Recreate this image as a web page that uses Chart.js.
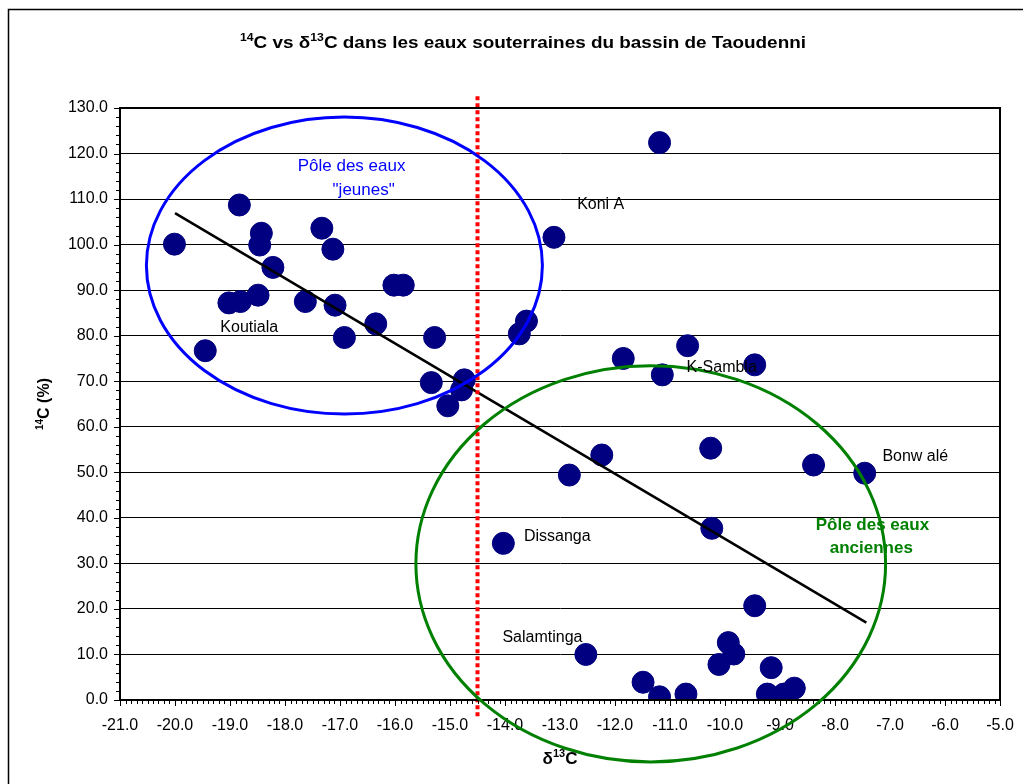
<!DOCTYPE html>
<html>
<head>
<meta charset="utf-8">
<script src="https://cdn.jsdelivr.net/npm/chart.js@4.4.1/dist/chart.umd.min.js"></script>
<style>
  body { margin: 0; background: #fff; }
  canvas { display: block; }
</style>
</head>
<body>
<canvas id="myChart" width="1023" height="784"></canvas>
<script>
// delta 13C (x) and 14C activity in % (y) for each sample
const d13C = [
  -20.01, -18.83, -18.43, -18.46, -18.22, -19.02, -18.81, -18.49, -19.45, -17.63,
  -17.33, -17.13, -17.09, -16.92, -16.35, -16.02, -15.85, -15.28, -15.34, -15.04,
  -14.74, -14.79, -13.61, -13.74, -13.11, -11.19, -11.85, -10.68, -11.14, -9.46,
  -12.24, -12.83, -10.26, -8.39, -7.46, -10.24, -14.03, -9.46, -12.53, -9.94,
  -9.84, -10.11, -9.16, -11.49, -11.19, -10.71, -9.23, -8.93, -8.74
];
const c14 = [
  100.1, 108.7, 102.5, 99.9, 95.0, 87.2, 87.5, 88.9, 76.7, 87.5,
  103.6, 99.0, 86.7, 79.6, 82.6, 91.1, 91.1, 79.6, 69.7, 64.6,
  70.3, 68.1, 83.2, 80.4, 101.6, 122.4, 75.0, 77.8, 71.4, 73.6,
  53.8, 49.4, 55.3, 51.6, 49.8, 37.7, 34.4, 20.7, 10.0, 12.6,
  10.1, 7.8, 7.1, 3.9, 0.7, 1.3, 1.3, 1.3, 2.6
];

// linear trend end points
const trendX = [-20.0, -7.43];
const trendY = [106.9, 17.0];

// vertical cut-off line (dotted red)
const cutoffX = [-14.5, -14.5];
const cutoffY = [132.6, -3.8];

// site names and where they sit (data units)
const siteNames = ['Koutiala', 'Koni A', 'K-Sambla', 'Bonw alé', 'Dissanga', 'Salamtinga'];
const siteX = [-18.65, -12.26, -10.06, -6.54, -13.05, -13.32];
const siteY = [81.7, 108.7, 73.1, 53.4, 35.8, 13.8];

// end-member ellipses: young (blue) and old (green) waters
const poleLines = [['Pôle des eaux', '"jeunes"'], ['Pôle des eaux', 'anciennes']];
const poleTextX = [[-16.79, -16.57], [-7.32, -7.34]];
const poleTextY = [[117.3, 112.0], [38.4, 33.4]];
const ellipseCx = [-16.92, -11.35];
const ellipseCy = [95.4, 29.9];
const ellipseRx = [3.6, 4.27];
const ellipseRy = [32.6, 43.5];
const poleColors = ['#0000ff', '#008000'];

const FONT = "'Liberation Sans', Arial, sans-serif";

function toPoints(xs, ys) {
  return xs.map((x, i) => ({ x: x, y: ys[i] }));
}

// draws text where some parts are superscript, optionally stretched to a width
function richText(ctx, parts, x, y, size, bold, width) {
  const w = bold ? 'bold ' : '';
  let total = 0;
  parts.forEach(p => {
    ctx.font = w + (p.sup ? Math.round(size * 0.65) : size) + 'px ' + FONT;
    p.w = ctx.measureText(p.t).width;
    total += p.w;
  });
  const sx = width ? width / total : 1;
  ctx.save();
  ctx.translate(x, y);
  ctx.scale(sx, 1);
  let cx = -total / 2;
  ctx.textAlign = 'left';
  ctx.textBaseline = 'middle';
  parts.forEach(p => {
    ctx.font = w + (p.sup ? Math.round(size * 0.65) : size) + 'px ' + FONT;
    ctx.fillText(p.t, cx, p.sup ? -size * 0.3 : 0);
    cx += p.w;
  });
  ctx.restore();
}

const decorations = {
  id: 'decorations',
  beforeDraw(chart) {
    const ctx = chart.ctx;
    ctx.save();
    ctx.fillStyle = '#fff';
    ctx.fillRect(0, 0, chart.width, chart.height);
    // outer frame of the chart object
    ctx.strokeStyle = '#000';
    ctx.lineWidth = 1.5;
    ctx.beginPath();
    ctx.moveTo(8.5, chart.height);
    ctx.lineTo(8.5, 9.5);
    ctx.lineTo(chart.width, 9.5);
    ctx.stroke();
    ctx.restore();
  },
  afterDatasetsDraw(chart) {
    const ctx = chart.ctx;
    const xs = chart.scales.x;
    const ys = chart.scales.y;
    const a = chart.chartArea;
    ctx.save();

    // plot frame
    ctx.strokeStyle = '#000';
    ctx.lineWidth = 2;
    ctx.strokeRect(a.left, a.top, a.right - a.left, a.bottom - a.top);

    // minor / major tick marks
    ctx.lineWidth = 1;
    ctx.beginPath();
    for (let v = 0; v <= 130.001; v += 2) {
      const py = Math.round(ys.getPixelForValue(v)) + 0.5;
      const len = Math.abs(v % 10) < 0.01 ? 6 : 4;
      ctx.moveTo(a.left - len, py);
      ctx.lineTo(a.left, py);
    }
    for (let i = 0; i <= 160; i++) {
      const px = Math.round(xs.getPixelForValue(-21 + i / 10)) + 0.5;
      const len = i % 10 === 0 ? 6 : 4;
      ctx.moveTo(px, a.bottom);
      ctx.lineTo(px, a.bottom + len);
    }
    ctx.stroke();

    // ellipses
    ctx.lineWidth = 3;
    ellipseCx.forEach((cx, i) => {
      const px = xs.getPixelForValue(cx);
      const py = ys.getPixelForValue(ellipseCy[i]);
      const rx = xs.getPixelForValue(cx + ellipseRx[i]) - px;
      const ry = py - ys.getPixelForValue(ellipseCy[i] + ellipseRy[i]);
      ctx.strokeStyle = poleColors[i];
      ctx.beginPath();
      ctx.ellipse(px, py, rx, ry, 0, 0, Math.PI * 2);
      ctx.stroke();
    });

    // site labels
    ctx.fillStyle = '#000';
    ctx.font = '16px ' + FONT;
    ctx.textAlign = 'center';
    ctx.textBaseline = 'middle';
    siteNames.forEach((name, i) => {
      ctx.fillText(name, xs.getPixelForValue(siteX[i]), ys.getPixelForValue(siteY[i]));
    });

    // pole labels
    poleLines.forEach((lines, i) => {
      ctx.fillStyle = poleColors[i];
      ctx.font = (i === 1 ? 'bold ' : '') + '17px ' + FONT;
      lines.forEach((line, j) => {
        ctx.fillText(line, xs.getPixelForValue(poleTextX[i][j]), ys.getPixelForValue(poleTextY[i][j]));
      });
    });

    // titles with superscripts
    ctx.fillStyle = '#000';
    richText(ctx, [
      { t: '14', sup: true }, { t: 'C vs δ' }, { t: '13', sup: true },
      { t: 'C dans les eaux souterraines du bassin de Taoudenni' }
    ], 523, 43, 17, true, 566);
    richText(ctx, [{ t: 'δ' }, { t: '13', sup: true }, { t: 'C' }], 560, 759, 17, true);
    ctx.translate(45, 404);
    ctx.rotate(-Math.PI / 2);
    richText(ctx, [{ t: '14', sup: true }, { t: 'C (%)' }], 0, 0, 16, true);
    ctx.restore();
  }
};

const ctx = document.getElementById('myChart').getContext('2d');
new Chart(ctx, {
  type: 'scatter',
  data: {
    datasets: [
      {
        label: 'Echantillons',
        data: toPoints(d13C, c14),
        backgroundColor: '#000080',
        borderColor: '#000080',
        pointRadius: 11,
        pointHoverRadius: 11,
        order: 2
      },
      {
        label: 'Tendance',
        type: 'line',
        data: toPoints(trendX, trendY),
        borderColor: '#000',
        borderWidth: 2.5,
        pointRadius: 0,
        fill: false,
        order: 1
      },
      {
        label: 'Limite',
        type: 'line',
        data: toPoints(cutoffX, cutoffY),
        borderColor: '#ff0000',
        borderWidth: 4,
        borderDash: [4, 3],
        borderCapStyle: 'butt',
        pointRadius: 0,
        fill: false,
        clip: false,
        order: 0
      }
    ]
  },
  options: {
    responsive: false,
    animation: false,
    devicePixelRatio: 1,
    layout: { padding: { top: 108, right: 23, bottom: 0, left: 0 } },
    plugins: {
      legend: { display: false },
      title: { display: false },
      tooltip: { enabled: false }
    },
    scales: {
      x: {
        type: 'linear',
        position: 'bottom',
        min: -21,
        max: -5,
        afterFit: s => { s.height = 84; s.paddingRight = 0; s.paddingLeft = 0; },
        ticks: {
          stepSize: 1,
          padding: 16,
          color: '#000',
          font: { family: FONT, size: 16 },
          callback: v => v.toFixed(1)
        },
        grid: { display: false, drawTicks: false },
        border: { display: true, color: '#000', width: 2 }
      },
      y: {
        min: 0,
        max: 130,
        afterFit: s => { s.width = 120; },
        ticks: {
          stepSize: 10,
          padding: 12,
          color: '#000',
          font: { family: FONT, size: 16 },
          callback: v => v.toFixed(1)
        },
        grid: { color: '#000', lineWidth: 1, drawTicks: false },
        border: { display: true, color: '#000', width: 2 }
      }
    }
  },
  plugins: [decorations]
});
</script>
</body>
</html>
